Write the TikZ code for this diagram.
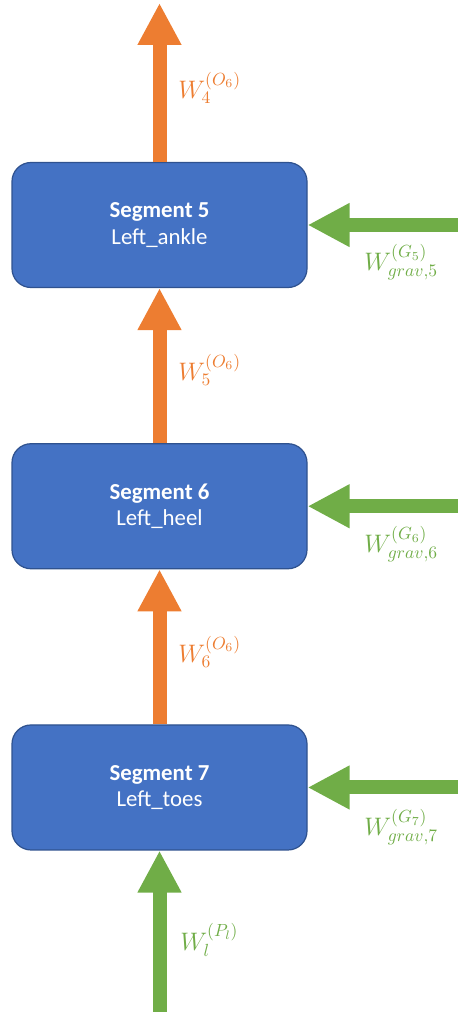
\documentclass[tikz,border=0pt]{standalone}
\usepackage{fontspec}
\setmainfont{Carlito}
\usetikzlibrary{arrows.meta,positioning}
\definecolor{segblue}{HTML}{4472C4}
\definecolor{segedge}{HTML}{2F528F}
\definecolor{jointorange}{HTML}{ED7D31}
\definecolor{gravgreen}{HTML}{70AD47}

\begin{document}
\begin{tikzpicture}[node distance=3.1cm,
  seg/.style={draw=segedge, line width=0.7pt, fill=segblue, rounded corners=0.38cm,
    minimum width=5.9cm, minimum height=2.5cm, align=center, text=white,
    font=\fontsize{13}{15}\selectfont},
  wrench/.style={line width=0.28cm, -{Triangle[length=0.84cm,width=0.82cm]}},
  joint/.style={wrench, draw=jointorange},
  grav/.style={wrench, draw=gravgreen},
  wlabel/.style={anchor=west, inner sep=0pt, font=\fontsize{14}{16}\selectfont},
  olabel/.style={wlabel, text=jointorange},
  glabel/.style={wlabel, text=gravgreen}]
  \useasboundingbox (0,0) rectangle (9.16,-20.24);
  % segments
  \node[seg] (s5) at (3.19,-4.5) {\textbf{Segment 5}\\Left\_ankle};
  \node[seg, below=of s5] (s6) {\textbf{Segment 6}\\Left\_heel};
  \node[seg, below=of s6] (s7) {\textbf{Segment 7}\\Left\_toes};
  % free ends
  \coordinate (edge) at (9.16,0);
  \coordinate (top) at (3.19,-0.06);
  \coordinate (ground) at (3.19,-20.24);
  % joint wrenches
  \draw[joint] (s5.north) -- (top);
  \draw[joint] (s6.north) -- (s5.south);
  \draw[joint] (s7.north) -- (s6.south);
  \draw[grav] (ground) -- (s7.south);
  % gravity
  \draw[grav] (s5.east -| edge) -- (s5.east);
  \draw[grav] (s6.east -| edge) -- (s6.east);
  \draw[grav] (s7.east -| edge) -- (s7.east);
  % labels
  \node[olabel] (w4) at (3.56,-1.76) {$W_4^{(O_6)}$};
  \node[olabel] (w5) at (3.56,-7.4) {$W_5^{(O_6)}$};
  \node[olabel] (w6) at (3.56,-13.04) {$W_6^{(O_6)}$};
  \node[glabel] (wl) at (3.6,-18.8) {$W_l^{(P_l)}$};
  \node[glabel] (g5) at (7.28,-5.24) {$W_{grav,5}^{(G_5)}$};
  \node[glabel] (g6) at (7.28,-10.88) {$W_{grav,6}^{(G_6)}$};
  \node[glabel] (g7) at (7.28,-16.54) {$W_{grav,7}^{(G_7)}$};
\end{tikzpicture}
\end{document}
